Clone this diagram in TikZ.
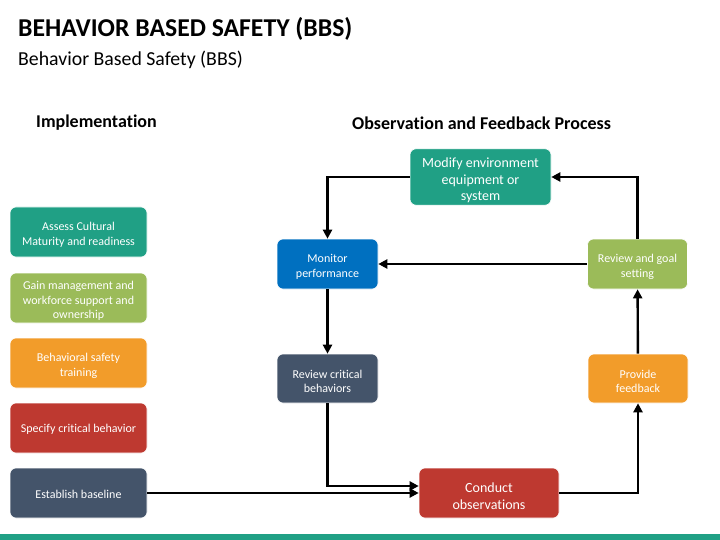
\documentclass[tikz,border=0pt]{standalone}
\usepackage{fontspec}
\setmainfont[Ligatures=NoCommon]{Carlito}
\usetikzlibrary{arrows.meta}
\definecolor{cteal}{HTML}{20A085}
\definecolor{cgreen}{HTML}{9BBB59}
\definecolor{corange}{HTML}{F29C2A}
\definecolor{cred}{HTML}{BE3930}
\definecolor{cslate}{HTML}{44546A}
\definecolor{cblue}{HTML}{0070C0}
\newcommand\bstrut{\rule{0pt}{14pt}}
\newcommand\Bstrut{\rule{0pt}{16.5pt}}
\newcommand\sstrut{\rule{0pt}{11.5pt}}
\tikzset{
  box/.style={rectangle, rounded corners=6pt, draw=white, line width=0.6pt, text=white,
    align=center, inner sep=2pt, font=\fontsize{12}{14.5}\selectfont},
  lbox/.style={box, minimum width=137pt, minimum height=50pt},
  bigtxt/.style={font=\fontsize{14}{16.8}\selectfont},
  arr/.style={line width=2.4pt, -{Triangle[length=9pt,width=9pt]}},
}
\begin{document}
\begin{tikzpicture}[x=1pt,y=-1pt]
\useasboundingbox (0,0) rectangle (720,540);
\fill[white] (0,0) rectangle (720,540);
\fill[cteal] (0,534) rectangle (720,540);
\node[anchor=base west, inner sep=0, font=\fontsize{25.7}{30}\selectfont\bfseries] (title) at (18,37) {BEHAVIOR BASED SAFETY (BBS)};
\node[anchor=base west, inner sep=0, font=\fontsize{19.8}{24}\selectfont] (sub) at (18,66) {Behavior Based Safety (BBS)};
\node[anchor=base west, inner sep=0, font=\fontsize{18}{21}\selectfont\bfseries] (impl) at (36,128) {Implementation};
\node[anchor=base west, inner sep=0, font=\fontsize{18}{21}\selectfont\bfseries] (obs) at (352,130) {Observation and Feedback Process};
% left column
\node[lbox, fill=cteal] (a1) at (78.5,232) {\bstrut Assess Cultural\\Maturity and readiness};
\node[lbox, fill=cgreen] (a2) at (78.5,298) {\bstrut Gain management and\\workforce support and\\ownership};
\node[lbox, fill=corange] (a3) at (78.5,363) {\bstrut Behavioral safety\\training};
\node[lbox, fill=cred] (a4) at (78.5,428) {\sstrut Specify critical behavior};
\node[lbox, fill=cslate] (eb) at (78.5,493) {\sstrut Establish baseline};
% cycle
\node[box, bigtxt, fill=cteal, minimum width=141pt, minimum height=50pt] (mod) at (480.5,177) {\Bstrut Modify environment\\equipment or\\system};
\node[box, fill=cblue, minimum width=101pt, minimum height=50pt] (mon) at (327.5,264) {\bstrut Monitor\\performance};
\node[box, fill=cgreen, minimum width=100pt, minimum height=50pt] (rg) at (637.5,264) {\bstrut Review and goal\\setting};
\node[box, fill=cslate, minimum width=101pt, minimum height=49pt] (rc) at (327.5,378.5) {\bstrut Review critical\\behaviors};
\node[box, fill=corange, minimum width=100pt, minimum height=49pt] (pf) at (638,378.5) {\bstrut Provide\\feedback};
\node[box, bigtxt, fill=cred, minimum width=140pt, minimum height=50pt] (cond) at (489,493) {\Bstrut Conduct\\observations};
% connectors
\draw[arr] (mod.west) -| (mon.north);
\draw[arr] (rg.north) |- (mod.east);
\draw[arr] (rg.west) -- (mon.east);
\draw[arr] (mon) -- (rc);
\draw[arr] (rc.south) |- ([yshift=7pt]cond.west);
\draw[arr] (eb.east) -- (cond.west);
\draw[arr] (cond.east) -| (pf.south);
\draw[arr] (pf) -- (rg);
\end{tikzpicture}
\end{document}
